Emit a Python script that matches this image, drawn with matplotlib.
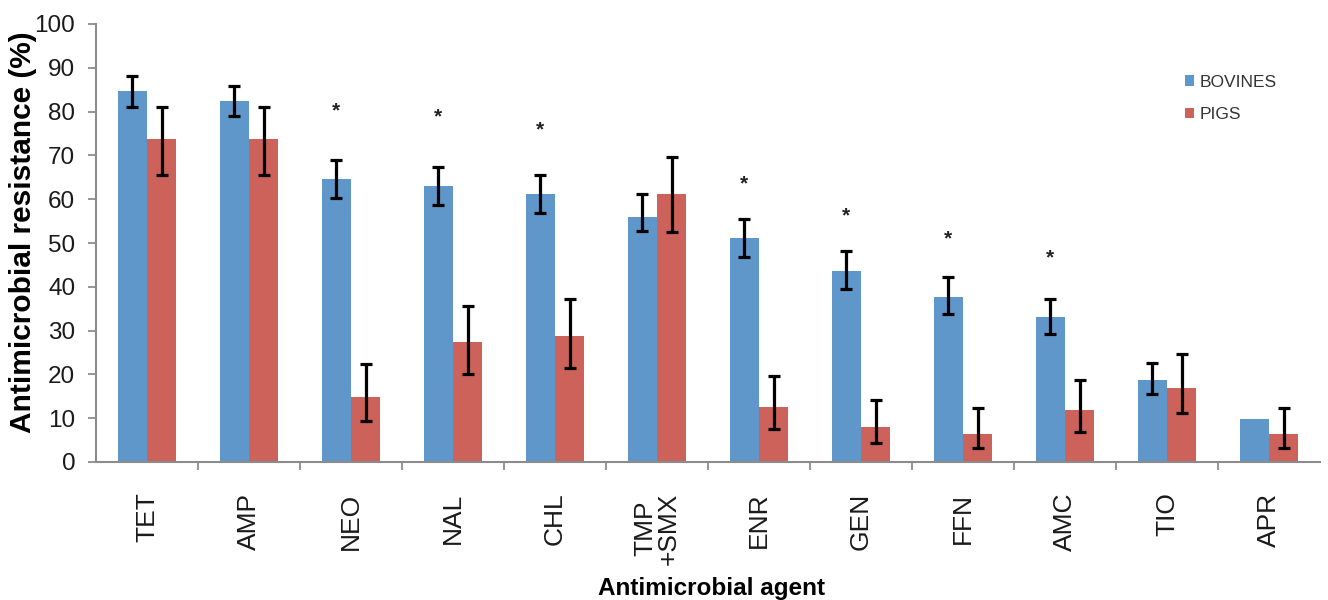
import numpy as np
import matplotlib
matplotlib.use("Agg")
import matplotlib.pyplot as plt

plt.rcParams['font.family'] = ['Liberation Sans', 'DejaVu Sans']

# Antimicrobial resistance data
agents = ['TET', 'AMP', 'NEO', 'NAL', 'CHL', 'TMP\n+SMX', 'ENR', 'GEN', 'FFN', 'AMC', 'TIO', 'APR']
bovines = [84.8, 82.5, 64.6, 62.9, 61.1, 56.0, 51.1, 43.7, 37.7, 33.0, 18.7, 9.9]
bov_lo = [81.1, 79.0, 60.3, 58.7, 56.8, 52.7, 46.9, 39.6, 33.7, 29.2, 15.5, np.nan]
bov_hi = [88.2, 85.8, 68.9, 67.3, 65.5, 61.1, 55.5, 48.2, 42.2, 37.3, 22.5, np.nan]
pigs = [73.8, 73.8, 14.8, 27.3, 28.8, 61.1, 12.6, 7.9, 6.5, 11.9, 17.0, 6.5]
pig_lo = [65.5, 65.5, 9.4, 20.1, 21.4, 52.4, 7.5, 4.3, 3.1, 6.8, 11.1, 3.1]
pig_hi = [81.1, 81.1, 22.4, 35.7, 37.2, 69.6, 19.6, 14.2, 12.4, 18.7, 24.6, 12.4]
# significance markers (y position of the star, None = no star)
star_y = [None, None, 80.2, 78.7, 75.8, None, 63.6, 56.2, 50.9, 46.5, None, None]

blue = '#5F97CB'
red = '#CD625A'
gray = '#8C8C8C'

x = np.arange(len(agents))
w = 1 / 3.5

bov = np.array(bovines)
pig = np.array(pigs)
bov_err = [bov - np.array(bov_lo), np.array(bov_hi) - bov]
pig_err = [pig - np.array(pig_lo), np.array(pig_hi) - pig]

fig = plt.figure(figsize=(13.28, 6), dpi=100)
ax = fig.add_axes([96 / 1328, 138 / 600, 1224 / 1328, 438 / 600])

err_kw = dict(ecolor='black', elinewidth=2.3, capsize=4.5, capthick=2.3)
ax.bar(x - w / 2, bov, w, color=blue, label='BOVINES', yerr=bov_err, error_kw=err_kw)
ax.bar(x + w / 2, pig, w, color=red, label='PIGS', yerr=pig_err, error_kw=err_kw)

for i, sy in enumerate(star_y):
    if sy is not None:
        ax.text(x[i] - w / 2, sy, '*', ha='center', va='center', fontsize=15,
                fontweight='bold', color='#222222')

ax.set_xlim(-0.5, len(agents) - 0.5)
ax.set_ylim(0, 100)
ax.set_yticks(range(0, 101, 10))
ax.tick_params(axis='y', labelsize=17.5, length=6, width=1.3, pad=9, color=gray,
               labelcolor='#1a1a1a')
ax.set_xticks(x)
ax.set_xticklabels(agents, rotation=90, fontsize=19, linespacing=0.95, color='#1a1a1a')
ax.tick_params(axis='x', length=0, pad=22)
ax.set_xticks(np.arange(0.5, len(agents) - 0.5, 1), minor=True)
ax.tick_params(axis='x', which='minor', length=6, width=1.3, color=gray)

for s in ['top', 'right']:
    ax.spines[s].set_visible(False)
for s in ['left', 'bottom']:
    ax.spines[s].set_color(gray)
    ax.spines[s].set_linewidth(1.5)

fig.text(23 / 1328, 1 - 232 / 600, 'Antimicrobial resistance (%)', rotation=90,
         ha='center', va='center', fontsize=21.5, fontweight='bold')
fig.text(712 / 1328, 1 - 588 / 600, 'Antimicrobial agent', ha='center', va='center',
         fontsize=17.5, fontweight='bold')

leg = ax.legend(loc='upper left', bbox_to_anchor=(1176 / 1328, 1 - 66 / 600),
                bbox_transform=fig.transFigure, frameon=False, fontsize=12.5,
                handlelength=0.55, handleheight=0.55, handletextpad=0.3,
                labelspacing=1.0, borderpad=0)
for t in leg.get_texts():
    t.set_color('#333333')

plt.savefig('out.png', dpi=100)
